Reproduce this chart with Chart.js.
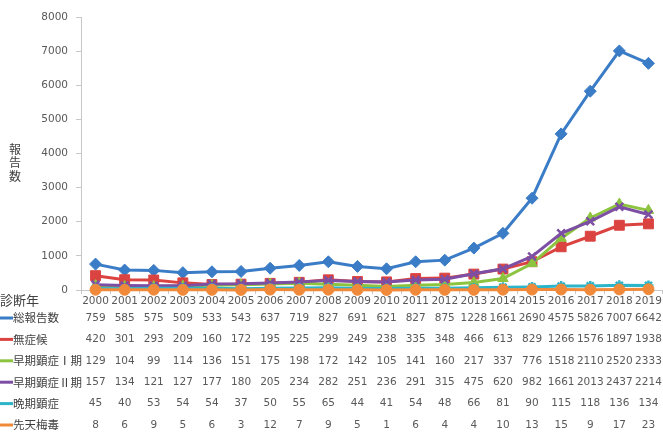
<!DOCTYPE html>
<html>
<head>
<meta charset="utf-8">
<script src="https://cdn.jsdelivr.net/npm/chart.js@4/dist/chart.umd.min.js"></script>
<style>
  html, body { margin: 0; padding: 0; background: #ffffff; }
  #wrap { width: 663px; height: 434px; position: relative; }
</style>
</head>
<body>
<div id="wrap"><canvas id="c" width="663" height="434"></canvas></div>
<script>
// 診断年
const years = ['2000','2001','2002','2003','2004','2005','2006','2007','2008','2009',
               '2010','2011','2012','2013','2014','2015','2016','2017','2018','2019'];

// 病型別の報告数
const total        = [759, 585, 575, 509, 533, 543, 637, 719, 827, 691, 621, 827, 875, 1228, 1661, 2690, 4575, 5826, 7007, 6642];
const asymptomatic = [420, 301, 293, 209, 160, 172, 195, 225, 299, 249, 238, 335, 348, 466, 613, 829, 1266, 1576, 1897, 1938];
const earlyStage1  = [129, 104, 99, 114, 136, 151, 175, 198, 172, 142, 105, 141, 160, 217, 337, 776, 1518, 2110, 2520, 2333];
const earlyStage2  = [157, 134, 121, 127, 177, 180, 205, 234, 282, 251, 236, 291, 315, 475, 620, 982, 1661, 2013, 2437, 2214];
const lateStage    = [45, 40, 53, 54, 54, 37, 50, 55, 65, 44, 41, 54, 48, 66, 81, 90, 115, 118, 136, 134];
const congenital   = [8, 6, 9, 5, 6, 3, 12, 7, 9, 5, 1, 6, 4, 4, 10, 13, 15, 9, 17, 23];

const seriesNames = ['総報告数', '無症候', '早期顕症Ⅰ期', '早期顕症Ⅱ期', '晩期顕症', '先天梅毒'];
const yTicks = [0, 1000, 2000, 3000, 4000, 5000, 6000, 7000, 8000];

const colors  = ['#3b7cc6', '#db4340', '#8dc43f', '#7c4fa4', '#2cb4c8', '#f08a3a'];
const styles  = ['rectRot', 'rect', 'triangle', 'crossRot', 'star', 'circle'];
const radii   = [6, 7, 6, 5.5, 5, 5.5];
const values  = [total, asymptomatic, earlyStage1, earlyStage2, lateStage, congenital];

const datasets = values.map((v, i) => ({
  label: seriesNames[i],
  data: v,
  borderColor: colors[i],
  backgroundColor: colors[i],
  borderWidth: 3,
  pointStyle: styles[i],
  pointRadius: radii[i],
  pointBorderWidth: (styles[i] === 'crossRot' || styles[i] === 'star') ? 2.5 : 1,
  pointBackgroundColor: colors[i],
  pointBorderColor: colors[i],
  tension: 0,
  clip: false,
  order: 6 - i
}));

const LABEL_FONT = '"Noto Sans CJK JP", sans-serif';
const NUM_FONT = '"DejaVu Sans", sans-serif';

// 縦書きの軸タイトルと下部のデータテーブル
const tablePlugin = {
  id: 'dataTable',
  afterDraw(chart) {
    const ctx = chart.ctx;
    const xs = chart.scales.x;
    const bottom = chart.chartArea.bottom;
    ctx.save();

    // 軸タイトル「報告数」
    ctx.fillStyle = '#404040';
    ctx.font = '12px ' + LABEL_FONT;
    ctx.textAlign = 'center';
    ctx.textBaseline = 'middle';
    const title = '報告数';
    for (let k = 0; k < title.length; k++) {
      ctx.fillText(title[k], 15, 149 + k * 13.5);
    }

    // 見出し
    ctx.textAlign = 'left';
    ctx.font = '13px ' + LABEL_FONT;
    ctx.fillText('診断年', 0, bottom + 10);

    // 各系列の行
    for (let i = 0; i < values.length; i++) {
      const y = bottom + 28 + i * 21.4;
      ctx.strokeStyle = colors[i];
      ctx.lineWidth = 3;
      ctx.beginPath();
      ctx.moveTo(0, y);
      ctx.lineTo(13, y);
      ctx.stroke();

      ctx.fillStyle = '#404040';
      ctx.font = '11.5px ' + LABEL_FONT;
      ctx.textAlign = 'left';
      ctx.fillText(seriesNames[i], 13, y);

      ctx.fillStyle = '#595959';
      ctx.font = '10.5px ' + NUM_FONT;
      ctx.textAlign = 'center';
      values[i].forEach((v, j) => {
        ctx.fillText(String(v), xs.getPixelForValue(j), y);
      });
    }
    ctx.restore();
  }
};

new Chart(document.getElementById('c'), {
  type: 'line',
  data: { labels: years, datasets },
  plugins: [tablePlugin],
  options: {
    responsive: false,
    animation: false,
    devicePixelRatio: 1,
    layout: { autoPadding: false, padding: { top: 17, right: 0, bottom: 0, left: 0 } },
    plugins: {
      legend: { display: false },
      tooltip: { enabled: false },
      title: { display: false }
    },
    scales: {
      x: {
        type: 'category',
        offset: true,
        afterFit(scale) {
          scale.height = 144;
          scale.paddingLeft = 0;
          scale.paddingRight = 0;
        },
        grid: { display: true, drawOnChartArea: false, drawTicks: true, tickLength: 4, color: '#c8c8c8', offset: true },
        border: { display: true, color: '#c8c8c8', width: 1 },
        ticks: {
          autoSkip: false, maxRotation: 0, minRotation: 0,
          color: '#595959', padding: 1,
          font: { family: NUM_FONT, size: 10.5 }
        }
      },
      y: {
        min: 0, max: 8000,
        afterFit(scale) { scale.width = 81; },
        afterBuildTicks(scale) { scale.ticks = yTicks.map(v => ({ value: v })); },
        grid: { display: true, drawOnChartArea: false, drawTicks: true, tickLength: 5, color: '#c8c8c8' },
        border: { display: true, color: '#c8c8c8', width: 1 },
        ticks: {
          color: '#595959', padding: 8,
          font: { family: NUM_FONT, size: 10.5 },
          callback: (v) => String(v)
        }
      }
    }
  }
});
</script>
</body>
</html>
